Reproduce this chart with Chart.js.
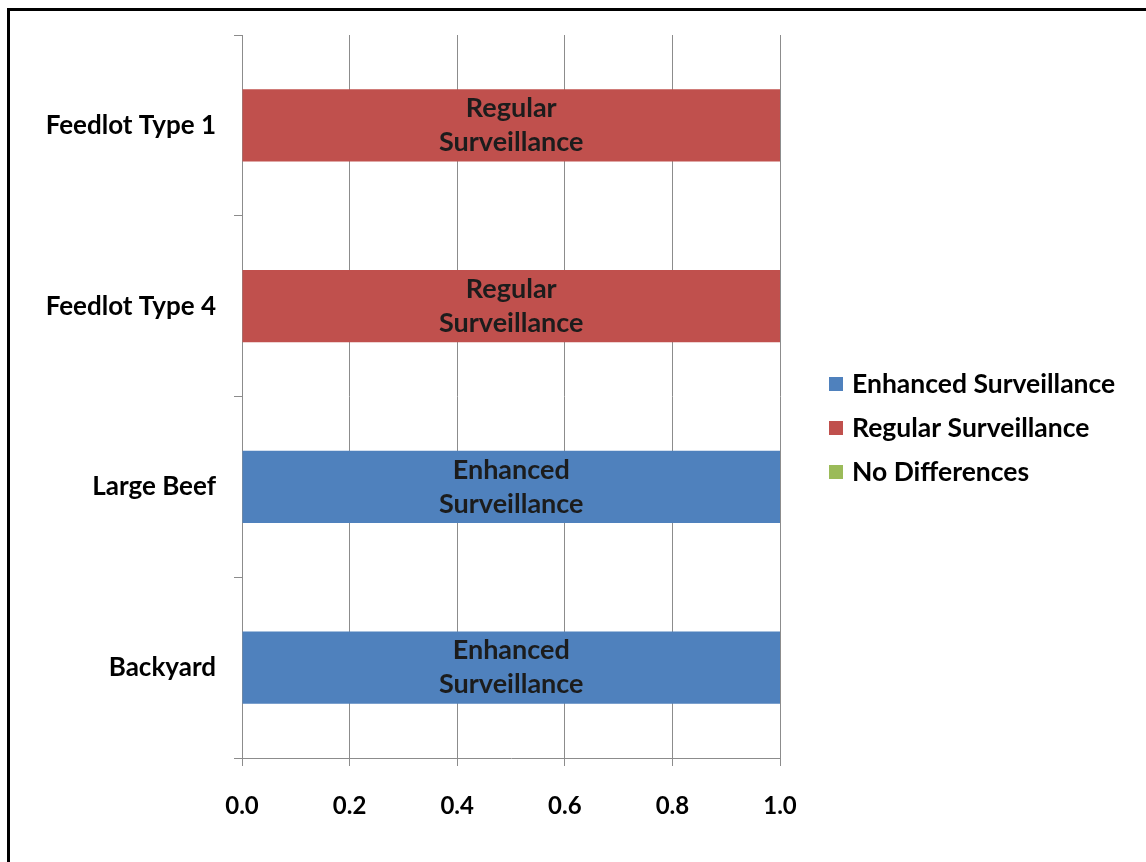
<!DOCTYPE html>
<html>
<head>
<meta charset="utf-8">
<script src="https://cdn.jsdelivr.net/npm/chart.js@4/dist/chart.umd.min.js"></script>
<style>
  html, body { margin: 0; padding: 0; background: #fff; overflow: hidden; }
  canvas { display: block; }
</style>
</head>
<body>
<canvas id="c" width="1146" height="862"></canvas>
<script>
// Farm types, top to bottom
const categories = ['Feedlot Type 1', 'Feedlot Type 4', 'Large Beef', 'Backyard'];

// Share of each surveillance outcome per farm type
const enhancedValues = [0, 0, 1, 1];
const regularValues = [1, 1, 0, 0];
const noDifferenceValues = [0, 0, 0, 0];

const seriesNames = ['Enhanced Surveillance', 'Regular Surveillance', 'No Differences'];
const seriesColors = ['#4F81BD', '#C0504D', '#9BBB59'];

// x axis tick values
const xTickValues = [0, 0.2, 0.4, 0.6, 0.8, 1.0];

const FONT = 'Lato, "Open Sans", sans-serif';
const GRID = '#8c8c8c';

// Black frame along the top and left edges of the figure
const frame = {
  id: 'frame',
  beforeDraw(chart) {
    const ctx = chart.ctx;
    ctx.save();
    ctx.fillStyle = '#fff';
    ctx.fillRect(0, 0, chart.width, chart.height);
    ctx.fillStyle = '#000';
    ctx.fillRect(7, 8, chart.width, 3);
    ctx.fillRect(7, 8, 3, chart.height);
    ctx.restore();
  }
};

// Writes the series name inside each non-empty bar, one word per line
const barLabels = {
  id: 'barLabels',
  afterDatasetsDraw(chart) {
    const ctx = chart.ctx;
    ctx.save();
    ctx.font = 'bold 27px ' + FONT;
    ctx.fillStyle = '#1c1c1c';
    ctx.textAlign = 'center';
    ctx.textBaseline = 'middle';
    chart.data.datasets.forEach((ds, i) => {
      const meta = chart.getDatasetMeta(i);
      meta.data.forEach((bar, j) => {
        if (!ds.data[j]) return;
        const cx = (bar.x + bar.base) / 2;
        const words = ds.label.split(' ');
        const gap = 34;
        const y0 = bar.y - gap * (words.length - 1) / 2;
        words.forEach((w, k) => ctx.fillText(w, cx, y0 + k * gap));
      });
    });
    ctx.restore();
  }
};

// Legend to the right of the plot
const sideLegend = {
  id: 'sideLegend',
  afterDraw(chart) {
    const ctx = chart.ctx;
    ctx.save();
    ctx.font = 'bold 26.5px ' + FONT;
    ctx.textAlign = 'left';
    ctx.textBaseline = 'middle';
    chart.data.datasets.forEach((ds, i) => {
      const y = 384 + i * 44;
      ctx.fillStyle = ds.backgroundColor;
      ctx.fillRect(829, y - 7, 14, 14);
      ctx.fillStyle = '#000';
      ctx.fillText(ds.label, 852, y);
    });
    ctx.restore();
  }
};

new Chart(document.getElementById('c'), {
  type: 'bar',
  data: {
    labels: categories,
    datasets: [
      { label: seriesNames[0], data: enhancedValues, backgroundColor: seriesColors[0] },
      { label: seriesNames[1], data: regularValues, backgroundColor: seriesColors[1] },
      { label: seriesNames[2], data: noDifferenceValues, backgroundColor: seriesColors[2] }
    ]
  },
  options: {
    indexAxis: 'y',
    responsive: false,
    animation: false,
    devicePixelRatio: 1,
    categoryPercentage: 1,
    barPercentage: 0.4,
    layout: { padding: { left: 0, top: 35, right: 366, bottom: 0 } },
    plugins: {
      legend: { display: false },
      tooltip: { enabled: false }
    },
    scales: {
      x: {
        stacked: true,
        min: 0,
        max: 1,
        afterBuildTicks(scale) { scale.ticks = xTickValues.map(v => ({ value: v })); },
        afterFit(scale) { scale.height = 104; },
        grid: { color: GRID, lineWidth: 1, tickLength: 8, drawTicks: true },
        border: { color: GRID, width: 1 },
        ticks: {
          color: '#000',
          padding: 26,
          font: { family: FONT, size: 24, weight: 'bold' },
          callback: v => Number(v).toFixed(1)
        }
      },
      y: {
        stacked: true,
        afterFit(scale) { scale.width = 242; },
        grid: { color: GRID, lineWidth: 1, tickLength: 8, drawOnChartArea: false, drawTicks: true, offset: true },
        border: { color: GRID, width: 1 },
        ticks: {
          color: '#000',
          padding: 18,
          font: { family: FONT, size: 26, weight: 'bold' }
        }
      }
    }
  },
  plugins: [frame, barLabels, sideLegend]
});
</script>
</body>
</html>
